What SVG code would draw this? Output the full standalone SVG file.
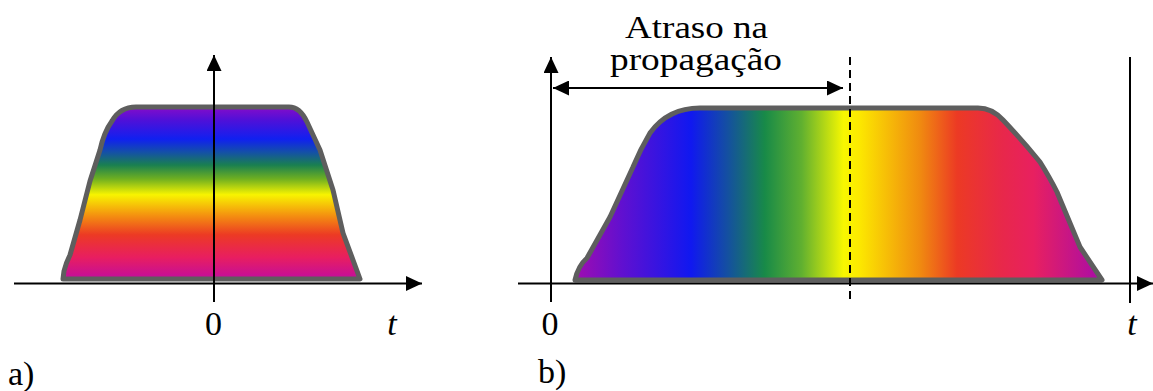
<svg xmlns="http://www.w3.org/2000/svg" width="1153" height="391" viewBox="0 0 1153 391">
  <style>
    .pulse { stroke: #5e5e5e; stroke-width: 5; stroke-linejoin: round; }
    .axis { stroke: #000; stroke-width: 2; fill: none; }
    .dash { stroke: #000; stroke-width: 2; stroke-dasharray: 8 5; fill: none; }
    .lbl { font-size: 34px; fill: #000; }
    .hdr { font-size: 31px; }
    .it { font-style: italic; }
  </style>
  <defs>
    <linearGradient id="gradA" gradientUnits="userSpaceOnUse" x1="0" y1="106" x2="0" y2="280">
      <stop offset="0" stop-color="#8a0cc8"/>
      <stop offset="0.08" stop-color="#5010d8"/>
      <stop offset="0.19" stop-color="#1020f0"/>
      <stop offset="0.265" stop-color="#1450a8"/>
      <stop offset="0.34" stop-color="#1a8050"/>
      <stop offset="0.42" stop-color="#70b020"/>
      <stop offset="0.51" stop-color="#f8f400"/>
      <stop offset="0.63" stop-color="#f49010"/>
      <stop offset="0.74" stop-color="#ec3a24"/>
      <stop offset="0.87" stop-color="#e81e60"/>
      <stop offset="1" stop-color="#c00ca0"/>
    </linearGradient>
    <linearGradient id="gradB" gradientUnits="userSpaceOnUse" x1="575" y1="0" x2="1102" y2="0">
      <stop offset="0" stop-color="#a00cb0"/>
      <stop offset="0.09" stop-color="#6010d0"/>
      <stop offset="0.22" stop-color="#1018f0"/>
      <stop offset="0.29" stop-color="#1450a0"/>
      <stop offset="0.36" stop-color="#188a48"/>
      <stop offset="0.43" stop-color="#60b030"/>
      <stop offset="0.51" stop-color="#f8f800"/>
      <stop offset="0.54" stop-color="#fce800"/>
      <stop offset="0.655" stop-color="#f08a10"/>
      <stop offset="0.725" stop-color="#ec3a24"/>
      <stop offset="0.81" stop-color="#e8284a"/>
      <stop offset="0.87" stop-color="#e82060"/>
      <stop offset="1" stop-color="#a80ca8"/>
    </linearGradient>
    <marker id="arrow" markerUnits="userSpaceOnUse" markerWidth="17" markerHeight="15" refX="16" refY="7.5" orient="auto-start-reverse" viewBox="0 0 17 15">
      <path d="M0,0 L16,7.5 L0,15 Z" fill="#000"/>
    </marker>
  </defs>

  <g id="pulse-a">
    <path class="pulse" fill="url(#gradA)" d="M63,279 L64,271 Q66,263 70,255 L80,220 L90,181 L100,150 Q104,132 112,121 Q120,107 136,107 L289,107 Q300,107 307,122 L320,150 L333,190 L343,233 L360,279 Z"/>
  </g>

  <g id="pulse-b">
    <path class="pulse" fill="url(#gradB)" d="M575,280 Q578,266 587,258 L610,217 L633,167 Q640,150 650,133 Q668,108 700,108 L978,108 Q992,108 1003,120 Q1022,140 1040,162 Q1050,178 1057,192 L1080,247 L1102,280 Z"/>
  </g>

  <g id="connectors">
    <line class="axis" x1="14" y1="283.5" x2="422" y2="283.5" marker-end="url(#arrow)"/>
    <line class="axis" x1="214" y1="302" x2="214" y2="55" marker-end="url(#arrow)"/>
    <line class="axis" x1="518" y1="283.5" x2="1153" y2="283.5" marker-end="url(#arrow)"/>
    <line class="axis" x1="551" y1="302" x2="551" y2="57" marker-end="url(#arrow)"/>
    <line class="axis" x1="1130" y1="57" x2="1130" y2="303"/>
    <line class="dash" x1="850" y1="57" x2="850" y2="304"/>
    <line class="axis" x1="553" y1="88" x2="843" y2="88" marker-start="url(#arrow)" marker-end="url(#arrow)"/>
  </g>

  <g id="labels" font-family="Liberation Serif, Times New Roman, Times, serif">
    <text class="lbl hdr" x="625" y="38" textLength="143" lengthAdjust="spacingAndGlyphs">Atraso na</text>
    <text class="lbl hdr" x="610" y="70" textLength="172" lengthAdjust="spacingAndGlyphs">propagação</text>
    <text class="lbl" x="213.5" y="335" text-anchor="middle">0</text>
    <text class="lbl it" x="392" y="335" text-anchor="middle">t</text>
    <text class="lbl" x="550" y="335" text-anchor="middle">0</text>
    <text class="lbl it" x="1132" y="335" text-anchor="middle">t</text>
    <text class="lbl" x="8" y="385">a)</text>
    <text class="lbl" x="538" y="383">b)</text>
  </g>
</svg>
